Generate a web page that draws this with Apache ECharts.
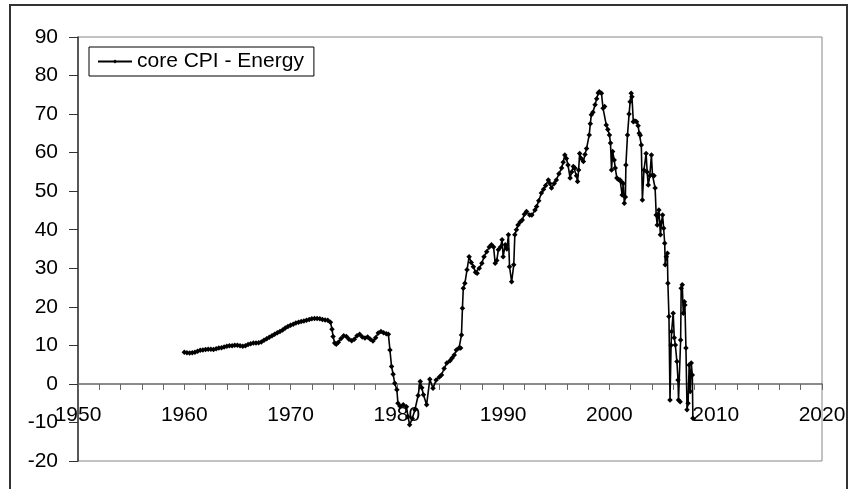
<!DOCTYPE html>
<html>
<head>
<meta charset="utf-8">
<script src="https://cdn.jsdelivr.net/npm/echarts@6/dist/echarts.min.js"></script>
<style>
html, body { margin: 0; padding: 0; background: #fff; }
#chart { width: 850px; height: 489px; }
</style>
</head>
<body>
<div id="chart"></div>
<script>
var seriesName = "core CPI - Energy";

var years = [
  1960.00, 1960.25, 1960.50, 1960.75, 1961.00, 1961.25, 1961.50, 1961.75,
  1962.00, 1962.25, 1962.50, 1962.75, 1963.00, 1963.25, 1963.50, 1963.75,
  1964.00, 1964.25, 1964.50, 1964.75, 1965.00, 1965.25, 1965.50, 1965.75,
  1966.00, 1966.25, 1966.50, 1966.75, 1967.00, 1967.25, 1967.50, 1967.75,
  1968.00, 1968.25, 1968.50, 1968.75, 1969.00, 1969.25, 1969.50, 1969.75,
  1970.00, 1970.25, 1970.50, 1970.75, 1971.00, 1971.25, 1971.50, 1971.75,
  1972.00, 1972.25, 1972.50, 1972.75, 1973.00, 1973.25, 1973.50, 1973.75,
  1973.90, 1974.00, 1974.15, 1974.30, 1974.50, 1974.75, 1975.00, 1975.25,
  1975.50, 1975.75, 1976.00, 1976.25, 1976.50, 1976.75, 1977.00, 1977.25,
  1977.50, 1977.75, 1978.00, 1978.25, 1978.50, 1978.75, 1979.00, 1979.20,
  1979.35, 1979.50, 1979.65, 1979.80, 1980.00, 1980.10, 1980.30, 1980.60,
  1980.90, 1981.05, 1981.20, 1981.45, 1981.70, 1982.00, 1982.20, 1982.35,
  1982.50, 1982.80, 1983.10, 1983.40, 1983.70, 1984.00, 1984.20, 1984.45,
  1984.70, 1985.00, 1985.20, 1985.40, 1985.60, 1985.85, 1986.00, 1986.08,
  1986.17, 1986.25, 1986.40, 1986.60, 1986.80, 1987.00, 1987.20, 1987.40,
  1987.55, 1987.75, 1988.00, 1988.20, 1988.45, 1988.70, 1988.90, 1989.10,
  1989.25, 1989.40, 1989.55, 1989.75, 1989.90, 1990.00, 1990.20, 1990.35,
  1990.50, 1990.60, 1990.80, 1991.00, 1991.10, 1991.25, 1991.40, 1991.60,
  1991.80, 1992.00, 1992.20, 1992.50, 1992.70, 1993.00, 1993.15, 1993.35,
  1993.60, 1993.80, 1994.00, 1994.25, 1994.40, 1994.55, 1994.80, 1995.00,
  1995.25, 1995.50, 1995.65, 1995.80, 1995.95, 1996.10, 1996.30, 1996.45,
  1996.60, 1996.75, 1996.90, 1997.00, 1997.10, 1997.20, 1997.35, 1997.55,
  1997.70, 1997.85, 1998.10, 1998.20, 1998.30, 1998.45, 1998.65, 1998.80,
  1998.95, 1999.05, 1999.25, 1999.40, 1999.55, 1999.70, 1999.85, 2000.00,
  2000.10, 2000.20, 2000.30, 2000.45, 2000.55, 2000.70, 2000.85, 2001.00,
  2001.10, 2001.20, 2001.30, 2001.40, 2001.50, 2001.55, 2001.70, 2001.85,
  2001.95, 2002.05, 2002.12, 2002.25, 2002.40, 2002.55, 2002.70, 2002.80,
  2002.90, 2003.00, 2003.10, 2003.25, 2003.45, 2003.55, 2003.65, 2003.80,
  2003.95, 2004.05, 2004.20, 2004.30, 2004.40, 2004.50, 2004.58, 2004.65,
  2004.80, 2004.90, 2005.00, 2005.10, 2005.20, 2005.25, 2005.35, 2005.45,
  2005.50, 2005.60, 2005.70, 2005.80, 2005.85, 2006.00, 2006.10, 2006.20,
  2006.35, 2006.45, 2006.50, 2006.65, 2006.70, 2006.75, 2006.85, 2006.95,
  2007.05, 2007.10, 2007.20, 2007.30, 2007.40, 2007.50, 2007.60, 2007.70,
  2007.80, 2007.85
];

var cpiEnergy = [
  8.2, 8.1, 8.0, 8.1, 8.2, 8.5, 8.7, 8.8,
  8.9, 9.0, 9.0, 8.9, 9.1, 9.3, 9.4, 9.6,
  9.8, 9.9, 9.9, 10.0, 10.0, 9.9, 9.8, 9.9,
  10.2, 10.4, 10.6, 10.6, 10.7, 10.9, 11.3, 11.7,
  12.1, 12.5, 12.9, 13.3, 13.6, 14.0, 14.5, 14.9,
  15.2, 15.5, 15.8, 16.0, 16.2, 16.3, 16.5, 16.7,
  16.9, 17.0, 17.0, 16.9, 16.7, 16.6, 16.5, 16.0,
  14.2, 12.3, 10.6, 10.3, 10.8, 11.8, 12.5, 12.3,
  11.6, 11.2, 11.6, 12.5, 12.9, 12.2, 11.9, 12.2,
  11.6, 11.1, 12.0, 13.2, 13.6, 13.3, 13.0, 12.9,
  8.8, 4.5, 2.5, 0.2, -1.5, -5.0, -5.8, -5.4,
  -5.9, -8.5, -10.6, -9.0, -6.7, -3.0, 0.6, -1.0,
  -2.8, -5.4, 1.2, -1.1, 1.0, 1.8, 2.3, 4.0,
  5.4, 6.0, 6.7, 7.5, 8.8, 9.3, 9.3, 12.7,
  19.6, 24.8, 26.1, 29.6, 33.0, 31.5, 30.4, 29.0,
  28.7, 30.0, 31.3, 33.0, 34.3, 35.5, 36.1, 35.5,
  31.3, 32.0, 34.8, 35.5, 37.4, 33.0, 36.1, 35.0,
  38.7, 30.4, 26.5, 30.9, 38.7, 40.0, 41.2, 42.0,
  42.5, 44.0, 44.7, 43.8, 43.8, 45.1, 46.0, 47.5,
  49.5, 50.5, 51.5, 52.9, 52.0, 50.8, 52.0, 52.9,
  54.5, 56.0, 57.5, 59.4, 58.5, 56.8, 53.4, 55.0,
  56.4, 56.0, 54.0, 52.5, 55.5, 59.8, 58.5, 57.7,
  59.5, 61.1, 64.6, 67.5, 69.8, 70.5, 72.4, 74.0,
  75.5, 75.8, 75.4, 71.5, 72.0, 67.2, 66.0, 64.6,
  62.5, 55.5, 60.3, 58.1, 56.0, 53.4, 53.0, 52.9,
  52.5, 49.0, 52.0, 46.9, 48.5, 56.8, 64.6, 70.0,
  73.2, 75.4, 74.5, 68.0, 68.2, 68.0, 67.0, 65.0,
  64.5, 62.0, 47.7, 55.5, 59.8, 55.0, 51.6, 54.0,
  59.4, 54.2, 54.0, 50.8, 43.8, 41.2, 44.0, 45.1,
  38.7, 42.0, 43.8, 40.4, 36.5, 30.9, 33.0, 33.9,
  26.1, 17.5, -4.2, 10.0, 13.6, 18.3, 12.0, 10.1,
  5.8, 1.0, -4.2, -4.6, 11.4, 24.8, 25.7, 18.3,
  21.3, 20.5, 9.3, -6.7, -5.0, 4.9, -2.0, 5.4,
  2.3, -8.9
];

var xMin = 1950, xMax = 2020, xStep = 10;
var yMin = -20, yMax = 90, yStep = 10;

var chart = echarts.init(document.getElementById("chart"));

var points = years.map(function (y, i) { return [y, cpiEnergy[i]]; });
var font = "'Liberation Sans', Arial, sans-serif";

// plot box: top 37, bottom 461 -> x axis sits on y = 0
var gridTop = 37, gridBottom = 28;
var plotH = 489 - gridTop - gridBottom;
var zeroOffset = -plotH * (0 - yMin) / (yMax - yMin);

var option = {
  animation: false,
  backgroundColor: "#fff",
  textStyle: { fontFamily: font },
  graphic: [
    {
      type: "rect",
      shape: { x: 10, y: 5, width: 837, height: 500 },
      style: { fill: null, stroke: "#333", lineWidth: 2 },
      silent: true
    }
  ],
  legend: {
    left: 89,
    top: 47,
    orient: "horizontal",
    padding: [4, 10, 4, 8],
    borderColor: "#000",
    borderWidth: 1,
    itemWidth: 34,
    itemHeight: 5,
    itemGap: 4,
    textStyle: { fontSize: 21, color: "#000", fontFamily: font },
    data: [seriesName]
  },
  grid: {
    left: 78,
    top: gridTop,
    right: 28,
    bottom: gridBottom,
    show: true,
    borderColor: "#888",
    borderWidth: 1
  },
  xAxis: {
    type: "value",
    position: "bottom",
    offset: zeroOffset,
    min: xMin,
    max: xMax,
    interval: xStep,
    axisLine: { onZero: false, lineStyle: { color: "#666", width: 1.5 } },
    axisTick: { show: true, length: 6, lineStyle: { color: "#666" } },
    minorTick: { show: true, splitNumber: 5, length: 6, lineStyle: { color: "#666" } },
    splitLine: { show: false },
    axisLabel: {
      color: "#000", fontSize: 21, margin: 21, fontFamily: font,
      formatter: function (v) { return String(v); }
    }
  },
  yAxis: {
    type: "value",
    min: yMin,
    max: yMax,
    interval: yStep,
    axisLine: { show: true, onZero: false, lineStyle: { color: "#333", width: 1.5 } },
    axisTick: { show: true, length: 9, lineStyle: { color: "#333" } },
    splitLine: { show: false },
    axisLabel: { color: "#000", fontSize: 21, margin: 20, fontFamily: font }
  },
  series: [
    {
      name: seriesName,
      type: "line",
      data: points,
      symbol: "diamond",
      symbolSize: 5.5,
      showSymbol: true,
      itemStyle: { color: "#000", borderWidth: 0 },
      lineStyle: { color: "#000", width: 1.6 }
    }
  ]
};

chart.setOption(option);
</script>
</body>
</html>
